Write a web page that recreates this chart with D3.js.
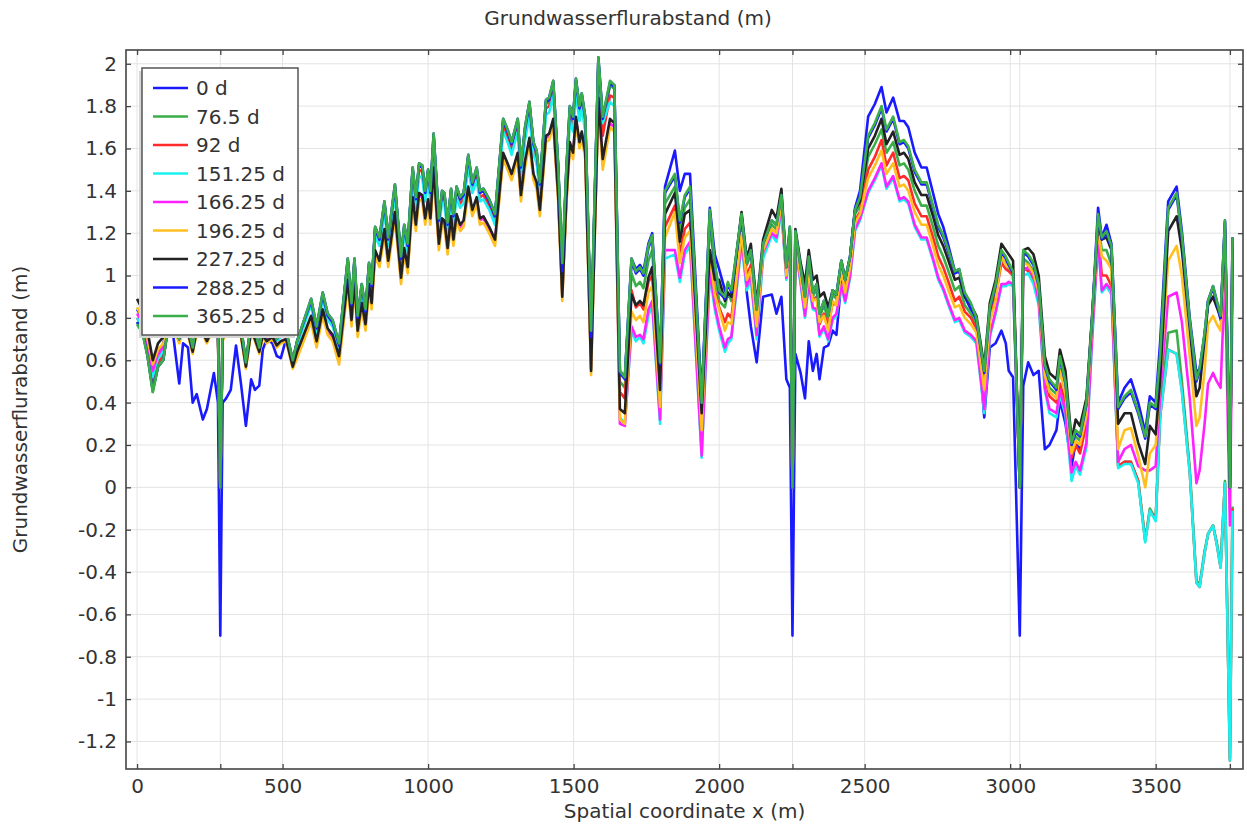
<!DOCTYPE html>
<html>
<head>
<meta charset="utf-8">
<script src="https://cdn.jsdelivr.net/npm/d3@7"></script>
<style>
	body { margin: 0; background: #fff; }
	svg text { font-family: "DejaVu Sans", sans-serif; fill: #333; }
</style>
</head>
<body>
<div id="chart"></div>
<script>
"use strict";

// x positions (m) along the profile
var xs = [0,18,36,54,72,90,108,125,145,158,175,191,205,226,240,264,278,286,294,306,322,340,357,374,392,405,420,432,445,465,480,494,512,535,550,598,617,638,655,672,694,724,737,747,758,772,785,797,806,818,833,850,863,886,907,918,930,947,958,969,980,990,1000,1008,1019,1037,1048,1056,1067,1079,1087,1098,1110,1122,1138,1152,1167,1178,1190,1210,1230,1258,1273,1287,1308,1319,1333,1348,1362,1373,1384,1405,1416,1430,1447,1461,1475,1487,1498,1508,1520,1528,1540,1560,1585,1600,1625,1640,1659,1676,1699,1714,1728,1740,1757,1770,1797,1814,1848,1865,1882,1900,1940,1968,1985,2000,2020,2030,2042,2077,2095,2109,2129,2151,2181,2197,2214,2231,2243,2252,2262,2280,2295,2308,2322,2335,2345,2360,2375,2390,2403,2420,2433,2450,2467,2484,2512,2535,2558,2575,2598,2620,2635,2650,2672,2695,2713,2735,2753,2770,2788,2810,2825,2844,2865,2884,2911,2930,2950,2970,2985,2995,3010,3033,3045,3062,3080,3098,3119,3135,3159,3171,3190,3211,3225,3240,3262,3282,3302,3315,3331,3348,3371,3393,3415,3440,3464,3480,3500,3515,3543,3572,3590,3617,3640,3651,3668,3680,3697,3710,3723,3738,3755,3764];

// one array per time step (m below surface)
var d0 = [.84,.80,.70,.55,.62,.68,.78,.71,.49,.68, .66,.40,.44,.32,.37,.54,.40,-.70,.40,.42, .46,.67,.49,.29,.51,.46,.48,.65,.70,.68,
	.62,.61,.70,.60,.69,.89,.76,.92,.82,.79, .68,1.08,.87,1.08,.81,.96,.84,1.06,.96,1.23, 1.18,1.35,1.18,1.43,1.09,1.24,1.15,1.51,1.37,1.53,
	1.52,1.40,1.50,1.40,1.67,1.27,1.40,1.39,1.25,1.41, 1.29,1.42,1.37,1.39,1.57,1.44,1.51,1.40,1.41,1.36, 1.29,1.74,1.69,1.63,1.74,1.52,1.70,1.82,1.63,1.59,
	1.44,1.83,1.84,1.92,1.52,1.01,1.50,1.80,1.75,1.93, 1.80,1.86,1.75,.70,2.03,1.75,1.90,1.90,.55,.52, 1.08,1.03,1.05,1.02,1.15,1.20,.60,1.42,1.59,1.40,
	1.48,1.48,.42,1.32,1.10,1.03,.93,.90,.90,1.29, .92,.76,.59,.90,.91,.82,.90,.51,.47,-.70, .63,.54,.42,.69,.55,.63,.51,.66,.67,.74,
	.72,.98,.93,1.09,1.32,1.40,1.75,1.81,1.89,1.77, 1.84,1.73,1.73,1.70,1.58,1.51,1.51,1.39,1.29,1.23, 1.14,1.02,1.03,.90,.84,.79,.33,.66,.68,.74,
	.68,.55,.52,-.70,.48,.59,.53,.55,.18,.20, .27,.41,.30,.10,.21,.18,.40,.81,1.32,1.18, 1.24,1.15,.40,.47,.51,.40,.26,.43,.40,.68,
	1.35,1.42,1.21,.80,.54,.56,.72,.88,.95,.88, .79,1.26,0,1.18];

var d76 = [.78,.74,.62,.45,.57,.60,.77,.80,.70,.79, .76,.66,.78,.77,.71,.80,.76,0,.74,.78, .80,.78,.76,.59,.78,.74,.66,.76,.72,.75,
	.70,.73,.74,.60,.69,.88,.75,.91,.81,.78, .67,1.07,.86,1.07,.80,.95,.83,1.05,.95,1.22, 1.17,1.34,1.17,1.42,1.08,1.23,1.14,1.50,1.36,1.52,
	1.51,1.39,1.49,1.39,1.65,1.26,1.39,1.38,1.24,1.40, 1.28,1.41,1.36,1.38,1.56,1.43,1.50,1.39,1.40,1.35, 1.28,1.72,1.67,1.62,1.72,1.51,1.68,1.80,1.62,1.58,
	1.43,1.81,1.82,1.90,1.51,1.05,1.49,1.78,1.73,1.91, 1.78,1.84,1.73,.72,2.01,1.72,1.90,1.88,.50,.47, 1.01,.95,.97,.94,1.07,1.12,.54,1.34,1.42,1.20,
	1.32,1.36,.37,1.25,1.02,.88,.85,.92,.88,1.26, 1.05,1.10,.82,1.13,1.24,1.22,1.36,1.02,1.21,0, 1.19,1.02,.88,1.07,.90,.94,.80,.86,.79,.91,
	.89,1.05,.96,1.07,1.29,1.33,1.56,1.62,1.69,1.58, 1.63,1.52,1.53,1.50,1.40,1.33,1.33,1.23,1.14,1.09, 1.02,.93,.95,.86,.82,.77,.50,.82,.93,1.08,
	1.06,1.03,1.00,0,1.08,1.06,1.02,.93,.55,.47, .44,.56,.45,.17,.24,.22,.37,.79,1.24,1.12, 1.12,1.05,.10,.12,.12,.03,-.25,-.10,-.15,.34,
	.73,.74,.50,.09,-.44,-.46,-.30,-.22,-.18,-.26, -.37,.03,-1.28,-.09];

var d92 = [.80,.76,.64,.50,.59,.62,.76,.79,.70,.78, .76,.66,.77,.76,.71,.79,.75,0,.73,.77, .79,.77,.75,.59,.77,.73,.66,.75,.72,.74,
	.70,.72,.73,.60,.68,.87,.74,.90,.80,.77, .66,1.06,.85,1.06,.79,.94,.82,1.04,.94,1.20, 1.15,1.32,1.15,1.40,1.07,1.21,1.12,1.47,1.34,1.50,
	1.49,1.37,1.47,1.37,1.63,1.24,1.37,1.36,1.22,1.38, 1.26,1.39,1.34,1.36,1.53,1.41,1.47,1.37,1.38,1.33, 1.26,1.70,1.65,1.59,1.70,1.49,1.66,1.78,1.59,1.55,
	1.41,1.79,1.80,1.88,1.49,1.03,1.47,1.76,1.71,1.89, 1.76,1.82,1.71,.68,1.98,1.66,1.85,1.84,.45,.42, .93,.85,.87,.84,.97,1.00,.44,1.23,1.33,1.10,
	1.22,1.25,.30,1.12,.93,.85,.78,.82,.80,1.22, 1.00,1.05,.78,1.10,1.22,1.20,1.34,1.01,1.19,0, 1.17,1.00,.87,1.03,.88,.90,.77,.82,.76,.87,
	.86,1.02,.93,1.04,1.26,1.30,1.50,1.56,1.64,1.52, 1.58,1.46,1.47,1.45,1.34,1.28,1.28,1.18,1.09,1.04, .97,.88,.90,.83,.80,.75,.48,.80,.90,1.06,
	1.03,1.02,1.00,0,1.04,1.02,.98,.90,.52,.43, .40,.49,.40,.14,.20,.16,.30,.76,1.20,1.00, 1.00,.95,.10,.12,.12,.03,-.25,-.11,-.15,.33,
	.65,.63,.46,.07,-.45,-.47,-.31,-.22,-.18,-.27, -.38,.02,-1.29,-.10];

var d151 = [.80,.76,.65,.52,.61,.64,.76,.78,.70,.77, .75,.65,.76,.75,.70,.78,.74,0,.72,.76, .78,.76,.74,.58,.76,.72,.65,.74,.71,.73,
	.69,.71,.72,.59,.67,.86,.73,.89,.79,.76, .66,1.04,.84,1.04,.78,.92,.81,1.02,.92,1.19, 1.14,1.30,1.14,1.38,1.05,1.20,1.11,1.45,1.32,1.47,
	1.46,1.35,1.44,1.35,1.61,1.22,1.35,1.34,1.20,1.36, 1.24,1.37,1.32,1.34,1.51,1.39,1.45,1.35,1.36,1.31, 1.24,1.68,1.63,1.57,1.68,1.46,1.64,1.75,1.57,1.53,
	1.39,1.76,1.77,1.85,1.46,1.00,1.44,1.73,1.68,1.86, 1.73,1.79,1.68,.64,1.95,1.72,1.82,1.80,.33,.30, .74,.69,.71,.68,.81,.86,.30,1.08,1.10,.97,
	1.10,1.14,.14,1.01,.84,.74,.64,.68,.70,1.15, .93,.98,.70,1.08,1.19,1.16,1.30,.98,1.14,0, 1.13,.96,.80,.96,.84,.83,.71,.75,.69,.79,
	.81,.95,.87,.99,1.21,1.26,1.39,1.45,1.52,1.41, 1.46,1.35,1.36,1.34,1.23,1.17,1.17,1.07,.98,.93, .86,.78,.79,.73,.71,.68,.35,.71,.82,.95,
	.95,.96,.95,0,1.00,1.01,.96,.86,.46,.35, .33,.44,.34,.03,.10,.06,.19,.70,1.16,.92, .95,.91,.09,.11,.11,.02,-.26,-.11,-.16,.33,
	.65,.63,.45,.07,-.45,-.47,-.31,-.22,-.18,-.27, -.38,.02,-1.29,-.11];

var d166 = [.82,.78,.67,.55,.63,.66,.75,.76,.69,.75, .73,.64,.74,.73,.69,.76,.72,0,.70,.74, .76,.74,.72,.57,.74,.70,.64,.72,.69,.71,
	.67,.69,.70,.57,.63,.80,.68,.83,.74,.71, .60,.97,.78,.97,.73,.86,.76,.95,.86,1.11, 1.06,1.21,1.06,1.29,.98,1.12,1.03,1.36,1.23,1.38,
	1.37,1.26,1.35,1.26,1.50,1.14,1.26,1.25,1.12,1.27, 1.16,1.28,1.23,1.25,1.41,1.30,1.36,1.26,1.27,1.22, 1.16,1.57,1.52,1.47,1.57,1.37,1.53,1.64,1.47,1.43,
	1.30,1.65,1.66,1.73,1.37,.91,1.35,1.62,1.57,1.74, 1.62,1.67,1.57,.56,1.83,1.54,1.72,1.70,.30,.29, .76,.71,.72,.70,.84,.88,.32,1.12,1.12,.99,
	1.12,1.16,.15,1.03,.86,.76,.66,.70,.71,1.17, .95,1.00,.72,1.11,1.20,1.18,1.32,.99,1.15,0, 1.14,.97,.81,.97,.85,.84,.72,.76,.70,.80,
	.82,.96,.88,1.00,1.22,1.27,1.40,1.46,1.53,1.42, 1.47,1.36,1.37,1.35,1.24,1.18,1.18,1.08,.99,.94, .87,.79,.80,.74,.72,.69,.37,.72,.83,.96,
	.96,.97,.96,0,1.02,1.04,1.00,.88,.47,.37, .35,.46,.36,.07,.12,.08,.21,.72,1.17,.93, .96,.93,.12,.18,.20,.10,.08,.08,.10,.43,
	.90,.92,.78,.42,.02,.08,.30,.49,.54,.50, .47,1.00,-.18,.95];

var d196 = [.85,.80,.70,.58,.65,.68,.74,.75,.68,.74, .72,.63,.73,.72,.68,.75,.71,0,.69,.73, .75,.73,.71,.56,.73,.69,.63,.71,.68,.70,
	.66,.68,.69,.56,.61,.78,.66,.81,.72,.69, .58,.95,.76,.95,.71,.84,.74,.93,.84,1.09, 1.04,1.19,1.04,1.27,.96,1.10,1.01,1.34,1.21,1.36,
	1.35,1.24,1.33,1.24,1.48,1.12,1.24,1.23,1.10,1.25, 1.14,1.26,1.21,1.23,1.39,1.28,1.34,1.24,1.25,1.20, 1.14,1.55,1.50,1.45,1.55,1.35,1.51,1.62,1.45,1.41,
	1.28,1.63,1.64,1.71,1.35,.88,1.33,1.60,1.55,1.72, 1.60,1.65,1.55,.53,1.81,1.50,1.70,1.68,.32,.30, .83,.79,.81,.78,.92,.95,.38,1.18,1.30,1.06,
	1.18,1.21,.27,1.10,.91,.84,.74,.78,.77,1.20, .98,1.03,.76,1.12,1.22,1.20,1.34,1.00,1.18,0, 1.16,.99,.85,1.02,.88,.89,.78,.81,.74,.88,
	.86,1.02,.92,1.04,1.25,1.29,1.46,1.52,1.59,1.48, 1.53,1.42,1.43,1.40,1.30,1.24,1.24,1.14,1.05,1.00, .93,.85,.86,.80,.77,.73,.46,.78,.88,1.09,
	1.05,1.04,1.02,0,1.06,1.05,1.01,.92,.53,.45, .42,.55,.44,.16,.22,.20,.34,.78,1.22,1.09, 1.07,1.03,.18,.27,.28,.15,.00,.16,.20,.50,
	1.07,1.14,1.00,.62,.29,.33,.55,.77,.81,.77, .74,1.15,0,1.10];

var d227 = [.89,.84,.74,.60,.68,.71,.76,.76,.70,.75, .73,.64,.74,.73,.69,.76,.72,0,.70,.74, .76,.74,.72,.57,.74,.70,.64,.72,.69,.71,
	.67,.69,.70,.57,.64,.81,.69,.84,.75,.72, .62,.98,.79,.98,.74,.87,.77,.96,.87,1.12, 1.07,1.22,1.07,1.30,.99,1.13,1.04,1.37,1.24,1.39,
	1.38,1.27,1.36,1.27,1.51,1.15,1.27,1.26,1.13,1.28, 1.17,1.29,1.24,1.26,1.42,1.31,1.37,1.27,1.28,1.23, 1.17,1.58,1.53,1.48,1.58,1.38,1.54,1.65,1.48,1.44,
	1.31,1.66,1.67,1.74,1.38,.90,1.36,1.63,1.58,1.75, 1.63,1.68,1.58,.55,1.84,1.55,1.74,1.72,.37,.35, .91,.86,.88,.86,.99,1.04,.46,1.29,1.39,1.16,
	1.29,1.31,.35,1.12,.98,.98,.88,.92,.90,1.30, 1.08,1.15,.86,1.17,1.31,1.27,1.41,1.04,1.22,0, 1.22,1.06,.96,1.12,.98,1.00,.90,.92,.85,.93,
	.91,1.07,.98,1.09,1.31,1.35,1.60,1.66,1.74,1.62, 1.68,1.57,1.58,1.55,1.44,1.38,1.38,1.28,1.19,1.14, 1.07,.98,.99,.90,.86,.81,.57,.87,.98,1.15,
	1.12,1.10,1.07,0,1.12,1.13,1.10,1.00,.62,.54, .51,.65,.55,.22,.32,.29,.42,.82,1.25,1.17, 1.18,1.12,.30,.35,.35,.21,.11,.29,.25,.50,
	1.21,1.28,1.12,.75,.43,.47,.70,.86,.90,.85, .80,1.22,0,1.15];

var d288 = [.78,.74,.62,.46,.57,.60,.77,.80,.70,.79, .76,.66,.78,.77,.71,.80,.76,0,.74,.78, .80,.78,.76,.59,.78,.74,.66,.76,.72,.75,
	.70,.73,.74,.60,.69,.88,.75,.91,.81,.78, .67,1.07,.86,1.07,.80,.95,.83,1.05,.95,1.22, 1.17,1.34,1.17,1.42,1.08,1.23,1.14,1.50,1.36,1.52,
	1.51,1.39,1.49,1.39,1.66,1.26,1.39,1.38,1.24,1.40, 1.28,1.41,1.36,1.38,1.56,1.43,1.50,1.39,1.40,1.35, 1.28,1.73,1.68,1.62,1.73,1.51,1.69,1.81,1.62,1.58,
	1.43,1.82,1.83,1.91,1.51,1.02,1.49,1.79,1.74,1.92, 1.79,1.85,1.74,.71,2.02,1.74,1.91,1.89,.54,.51, 1.07,1.01,1.03,1.00,1.13,1.18,.58,1.39,1.47,1.25,
	1.37,1.41,.40,1.30,1.05,.92,.89,.96,.92,1.28, 1.06,1.12,.84,1.15,1.26,1.24,1.38,1.04,1.23,0, 1.21,1.04,.90,1.09,.92,.96,.82,.88,.81,.93,
	.91,1.07,.98,1.09,1.31,1.37,1.65,1.71,1.79,1.68, 1.74,1.62,1.63,1.60,1.49,1.43,1.43,1.32,1.23,1.18, 1.11,1.01,1.02,.91,.86,.79,.54,.84,.95,1.11,
	1.08,1.05,1.01,0,1.11,1.09,1.05,.95,.57,.50, .46,.61,.49,.20,.26,.24,.39,.80,1.28,1.17, 1.20,1.13,.37,.42,.45,.35,.23,.39,.37,.61,
	1.31,1.38,1.18,.78,.50,.55,.72,.88,.94,.87, .80,1.25,0,1.18];

var d365 = [.77,.73,.62,.45,.57,.60,.77,.80,.70,.79, .76,.66,.78,.77,.71,.80,.76,0,.74,.78, .80,.78,.76,.59,.78,.74,.66,.76,.72,.75,
	.70,.73,.74,.60,.69,.89,.76,.92,.82,.79, .68,1.08,.87,1.08,.81,.96,.84,1.06,.96,1.23, 1.18,1.35,1.18,1.43,1.09,1.24,1.15,1.51,1.37,1.53,
	1.52,1.40,1.50,1.40,1.67,1.27,1.40,1.39,1.25,1.41, 1.29,1.42,1.37,1.39,1.57,1.44,1.51,1.40,1.41,1.36, 1.29,1.74,1.69,1.63,1.74,1.52,1.70,1.82,1.63,1.59,
	1.44,1.83,1.84,1.92,1.52,1.06,1.50,1.80,1.75,1.93, 1.80,1.86,1.75,.74,2.03,1.75,1.92,1.90,.55,.52, 1.08,1.02,1.04,1.01,1.14,1.19,.59,1.40,1.48,1.26,
	1.38,1.42,.40,1.31,1.06,.93,.90,.97,.93,1.29, 1.06,1.12,.84,1.15,1.26,1.24,1.38,1.04,1.23,0, 1.21,1.04,.90,1.09,.92,.96,.82,.88,.81,.93,
	.91,1.07,.98,1.09,1.31,1.37,1.66,1.72,1.80,1.69, 1.75,1.63,1.64,1.61,1.50,1.44,1.44,1.33,1.24,1.19, 1.12,1.02,1.03,.92,.87,.80,.55,.85,.96,1.12,
	1.09,1.06,1.02,0,1.12,1.10,1.06,.96,.58,.51, .47,.62,.50,.21,.27,.25,.40,.81,1.29,1.18, 1.21,1.14,.38,.43,.46,.36,.24,.40,.38,.62,
	1.32,1.39,1.19,.79,.51,.56,.73,.88,.95,.88, .81,1.26,0,1.18];

var labels = ["0 d", "76.5 d", "92 d", "151.25 d", "166.25 d", "196.25 d", "227.25 d", "288.25 d", "365.25 d"];
var colors = ["#1a1aff", "#3aae48", "#ff2a2a", "#19f0f0", "#ff22ff", "#ffbf1f", "#222222", "#1a1aff", "#3aae48"];
var seriesVals = [d0, d76, d92, d151, d166, d196, d227, d288, d365];

var xTicks = [0, 500, 1000, 1500, 2000, 2500, 3000, 3500];
var xMarks = [286, 2252, 3033, 3755]; // extra grid lines at geometry points, no label
var yTicks = d3.range(-12, 21, 2).map(function (i) { return i / 10; });

// sanity check - all arrays same length?
seriesVals.forEach(function (s, i) {
	if (s.length !== xs.length) throw new Error(labels[i] + " has " + s.length + " values, xs has " + xs.length);
});

var W = 1247, H = 826;
var plot = { left: 126, top: 50, right: 1243, bottom: 769 };

var svg = d3.select("#chart").append("svg")
	.attr("width", W)
	.attr("height", H);

var x = d3.scaleLinear().domain([-38, 3800]).range([plot.left, plot.right]);
var y = d3.scaleLinear().domain([-1.33, 2.065]).range([plot.bottom, plot.top]);

// grid
var grid = svg.append("g").attr("stroke", "#e3e3e3").attr("stroke-width", 1);
grid.selectAll(".gx").data(xTicks.concat(xMarks)).enter().append("line")
	.attr("x1", function (d) { return x(d); }).attr("x2", function (d) { return x(d); })
	.attr("y1", plot.top).attr("y2", plot.bottom);
grid.selectAll(".gy").data(yTicks).enter().append("line")
	.attr("x1", plot.left).attr("x2", plot.right)
	.attr("y1", function (d) { return y(d); }).attr("y2", function (d) { return y(d); });

// lines
svg.append("clipPath").attr("id", "clip").append("rect")
	.attr("x", plot.left).attr("y", plot.top)
	.attr("width", plot.right - plot.left).attr("height", plot.bottom - plot.top);

var line = d3.line()
	.x(function (d) { return x(d[0]); })
	.y(function (d) { return y(d[1]); });

svg.append("g").attr("clip-path", "url(#clip)")
	.selectAll("path")
	.data(seriesVals)
	.enter().append("path")
	.attr("d", function (s) { return line(d3.zip(xs, s)); })
	.attr("fill", "none")
	.attr("stroke", function (s, i) { return colors[i]; })
	.attr("stroke-width", 2.6)
	.attr("stroke-linejoin", "round");

// axes - ticks point inwards on all four sides
var fmt = function (v) { return String(+v.toFixed(1)); };
var allX = xTicks.concat(xMarks);

svg.append("g").attr("transform", "translate(0," + plot.bottom + ")")
	.call(d3.axisBottom(x).tickValues(allX).tickSizeInner(-5).tickSizeOuter(0)
		.tickFormat(function (d) { return xTicks.indexOf(d) >= 0 ? d : ""; }))
	.call(function (g) {
		g.select(".domain").remove();
		g.selectAll("text").attr("y", 10).attr("font-size", 20).attr("fill", "#333");
	});
svg.append("g").attr("transform", "translate(0," + plot.top + ")")
	.call(d3.axisTop(x).tickValues(allX).tickSizeInner(-5).tickSizeOuter(0).tickFormat(""))
	.call(function (g) { g.select(".domain").remove(); });
svg.append("g").attr("transform", "translate(" + plot.left + ",0)")
	.call(d3.axisLeft(y).tickValues(yTicks).tickSizeInner(-5).tickSizeOuter(0).tickFormat(fmt))
	.call(function (g) {
		g.select(".domain").remove();
		g.selectAll("text").attr("x", -9).attr("font-size", 20).attr("fill", "#333");
	});
svg.append("g").attr("transform", "translate(" + plot.right + ",0)")
	.call(d3.axisRight(y).tickValues(yTicks).tickSizeInner(-5).tickSizeOuter(0).tickFormat(""))
	.call(function (g) { g.select(".domain").remove(); });

svg.selectAll(".tick line").attr("stroke", "#444").attr("stroke-width", 1.3);

svg.append("rect")
	.attr("x", plot.left).attr("y", plot.top)
	.attr("width", plot.right - plot.left).attr("height", plot.bottom - plot.top)
	.attr("fill", "none").attr("stroke", "#444").attr("stroke-width", 1.6);

// titles
svg.append("text").attr("x", 628).attr("y", 25).attr("text-anchor", "middle")
	.attr("font-size", 20).text("Grundwasserflurabstand (m)");
svg.append("text").attr("x", (plot.left + plot.right) / 2).attr("y", 818).attr("text-anchor", "middle")
	.attr("font-size", 20).text("Spatial coordinate x (m)");
svg.append("text").attr("transform", "translate(27," + (plot.top + plot.bottom) / 2 + ") rotate(-90)")
	.attr("text-anchor", "middle").attr("font-size", 20).text("Grundwasserflurabstand (m)");

// legend
var lg = svg.append("g");
lg.append("rect").attr("x", 139).attr("y", 71).attr("width", 156).attr("height", 267).attr("fill", "#d6d6d6");
lg.append("rect").attr("x", 142).attr("y", 68).attr("width", 156).attr("height", 267)
	.attr("fill", "#fff").attr("stroke", "#555").attr("stroke-width", 1.5);
var item = lg.selectAll(".item").data(labels).enter().append("g")
	.attr("transform", function (d, i) { return "translate(0," + (88 + i * 28.5) + ")"; });
item.append("line").attr("x1", 153).attr("x2", 188)
	.attr("stroke", function (d, i) { return colors[i]; }).attr("stroke-width", 2.6);
item.append("text").attr("x", 196).attr("y", 7).attr("font-size", 20).text(function (d) { return d; });
</script>
</body>
</html>
